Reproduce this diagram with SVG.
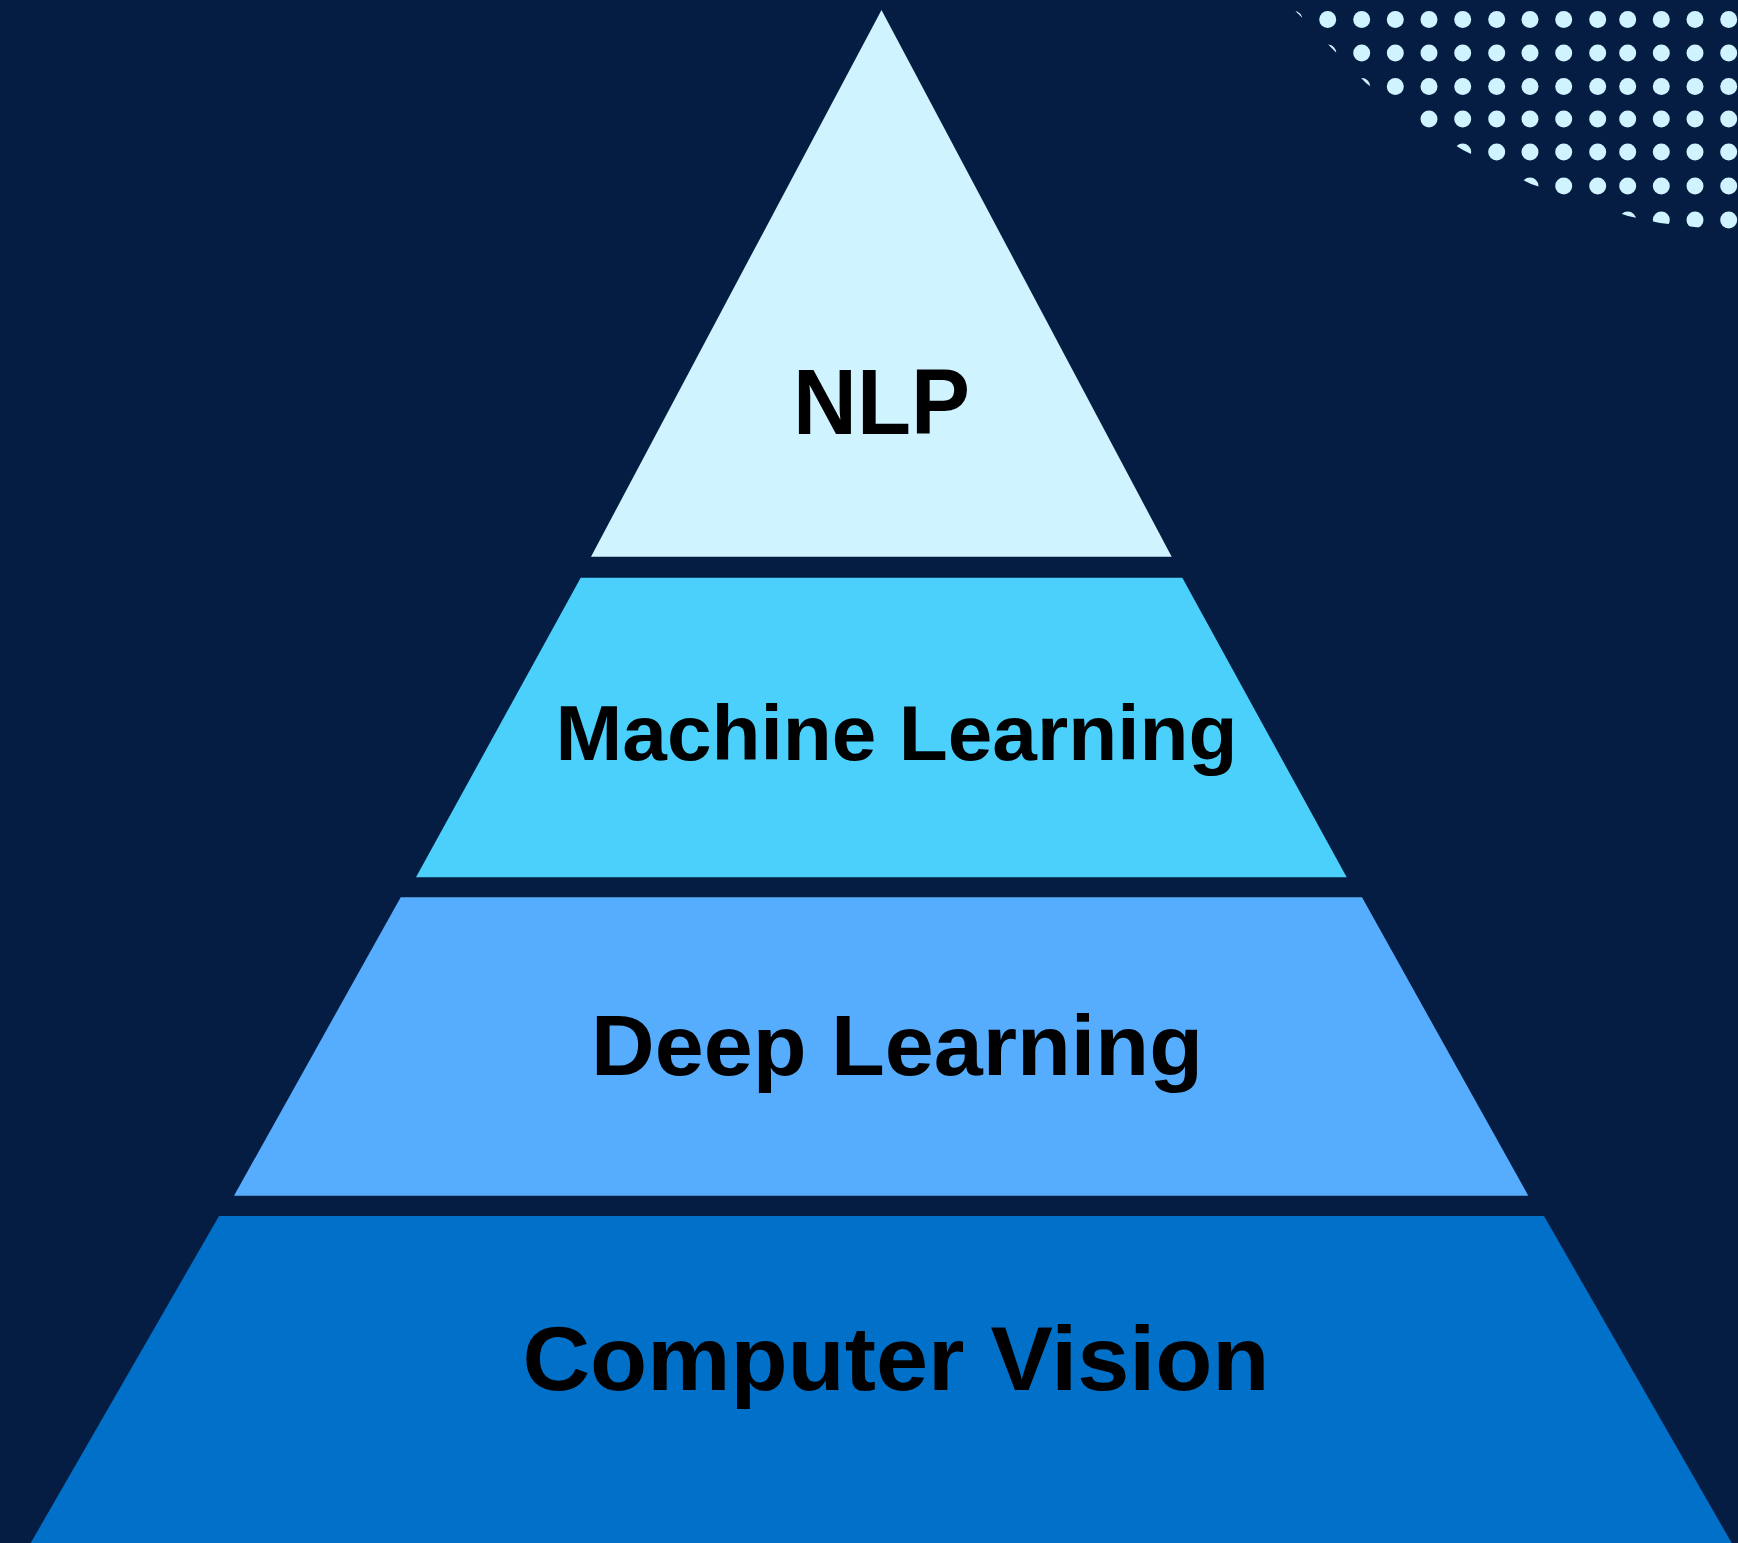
<svg xmlns="http://www.w3.org/2000/svg" width="1738" height="1543" viewBox="0 0 1738 1543">
  <style>
    .lbl { font-family: "Liberation Sans", Arial, sans-serif; font-weight: 700; fill: #000000; }
    .dot { fill: #CFF3FF; }
  </style>
  <defs>
    <clipPath id="dotClip">
      <polygon points="1274,-10 1304.5,20 1336.5,53 1366,83 1412,119 1463,150 1531,184 1628,216 1660,223 1738,232 1738,-10"/>
    </clipPath>
  </defs>
  <rect x="0" y="0" width="1738" height="1543" fill="#051D42"/>

  <g id="dots" clip-path="url(#dotClip)">
    <g id="dot-row-1">
      <circle class="dot" cx="1294" cy="19.5" r="8.5"/><circle class="dot" cx="1327.7" cy="19.5" r="8.5"/><circle class="dot" cx="1361.7" cy="19.5" r="8.5"/><circle class="dot" cx="1395.3" cy="19.5" r="8.5"/><circle class="dot" cx="1429" cy="19.5" r="8.5"/><circle class="dot" cx="1462.7" cy="19.5" r="8.5"/><circle class="dot" cx="1496.7" cy="19.5" r="8.5"/><circle class="dot" cx="1530" cy="19.5" r="8.5"/><circle class="dot" cx="1563.7" cy="19.5" r="8.5"/><circle class="dot" cx="1597.7" cy="19.5" r="8.5"/><circle class="dot" cx="1627.7" cy="19.5" r="8.5"/><circle class="dot" cx="1661.3" cy="19.5" r="8.5"/><circle class="dot" cx="1695" cy="19.5" r="8.5"/><circle class="dot" cx="1728.7" cy="19.5" r="8.5"/>
    </g>
    <g id="dot-row-2">
      <circle class="dot" cx="1294" cy="53" r="8.5"/><circle class="dot" cx="1327.7" cy="53" r="8.5"/><circle class="dot" cx="1361.7" cy="53" r="8.5"/><circle class="dot" cx="1395.3" cy="53" r="8.5"/><circle class="dot" cx="1429" cy="53" r="8.5"/><circle class="dot" cx="1462.7" cy="53" r="8.5"/><circle class="dot" cx="1496.7" cy="53" r="8.5"/><circle class="dot" cx="1530" cy="53" r="8.5"/><circle class="dot" cx="1563.7" cy="53" r="8.5"/><circle class="dot" cx="1597.7" cy="53" r="8.5"/><circle class="dot" cx="1627.7" cy="53" r="8.5"/><circle class="dot" cx="1661.3" cy="53" r="8.5"/><circle class="dot" cx="1695" cy="53" r="8.5"/><circle class="dot" cx="1728.7" cy="53" r="8.5"/>
    </g>
    <g id="dot-row-3">
      <circle class="dot" cx="1294" cy="86.5" r="8.5"/><circle class="dot" cx="1327.7" cy="86.5" r="8.5"/><circle class="dot" cx="1361.7" cy="86.5" r="8.5"/><circle class="dot" cx="1395.3" cy="86.5" r="8.5"/><circle class="dot" cx="1429" cy="86.5" r="8.5"/><circle class="dot" cx="1462.7" cy="86.5" r="8.5"/><circle class="dot" cx="1496.7" cy="86.5" r="8.5"/><circle class="dot" cx="1530" cy="86.5" r="8.5"/><circle class="dot" cx="1563.7" cy="86.5" r="8.5"/><circle class="dot" cx="1597.7" cy="86.5" r="8.5"/><circle class="dot" cx="1627.7" cy="86.5" r="8.5"/><circle class="dot" cx="1661.3" cy="86.5" r="8.5"/><circle class="dot" cx="1695" cy="86.5" r="8.5"/><circle class="dot" cx="1728.7" cy="86.5" r="8.5"/>
    </g>
    <g id="dot-row-4">
      <circle class="dot" cx="1294" cy="119" r="8.5"/><circle class="dot" cx="1327.7" cy="119" r="8.5"/><circle class="dot" cx="1361.7" cy="119" r="8.5"/><circle class="dot" cx="1395.3" cy="119" r="8.5"/><circle class="dot" cx="1429" cy="119" r="8.5"/><circle class="dot" cx="1462.7" cy="119" r="8.5"/><circle class="dot" cx="1496.7" cy="119" r="8.5"/><circle class="dot" cx="1530" cy="119" r="8.5"/><circle class="dot" cx="1563.7" cy="119" r="8.5"/><circle class="dot" cx="1597.7" cy="119" r="8.5"/><circle class="dot" cx="1627.7" cy="119" r="8.5"/><circle class="dot" cx="1661.3" cy="119" r="8.5"/><circle class="dot" cx="1695" cy="119" r="8.5"/><circle class="dot" cx="1728.7" cy="119" r="8.5"/>
    </g>
    <g id="dot-row-5">
      <circle class="dot" cx="1294" cy="152" r="8.5"/><circle class="dot" cx="1327.7" cy="152" r="8.5"/><circle class="dot" cx="1361.7" cy="152" r="8.5"/><circle class="dot" cx="1395.3" cy="152" r="8.5"/><circle class="dot" cx="1429" cy="152" r="8.5"/><circle class="dot" cx="1462.7" cy="152" r="8.5"/><circle class="dot" cx="1496.7" cy="152" r="8.5"/><circle class="dot" cx="1530" cy="152" r="8.5"/><circle class="dot" cx="1563.7" cy="152" r="8.5"/><circle class="dot" cx="1597.7" cy="152" r="8.5"/><circle class="dot" cx="1627.7" cy="152" r="8.5"/><circle class="dot" cx="1661.3" cy="152" r="8.5"/><circle class="dot" cx="1695" cy="152" r="8.5"/><circle class="dot" cx="1728.7" cy="152" r="8.5"/>
    </g>
    <g id="dot-row-6">
      <circle class="dot" cx="1294" cy="186" r="8.5"/><circle class="dot" cx="1327.7" cy="186" r="8.5"/><circle class="dot" cx="1361.7" cy="186" r="8.5"/><circle class="dot" cx="1395.3" cy="186" r="8.5"/><circle class="dot" cx="1429" cy="186" r="8.5"/><circle class="dot" cx="1462.7" cy="186" r="8.5"/><circle class="dot" cx="1496.7" cy="186" r="8.5"/><circle class="dot" cx="1530" cy="186" r="8.5"/><circle class="dot" cx="1563.7" cy="186" r="8.5"/><circle class="dot" cx="1597.7" cy="186" r="8.5"/><circle class="dot" cx="1627.7" cy="186" r="8.5"/><circle class="dot" cx="1661.3" cy="186" r="8.5"/><circle class="dot" cx="1695" cy="186" r="8.5"/><circle class="dot" cx="1728.7" cy="186" r="8.5"/>
    </g>
    <g id="dot-row-7">
      <circle class="dot" cx="1294" cy="220" r="8.5"/><circle class="dot" cx="1327.7" cy="220" r="8.5"/><circle class="dot" cx="1361.7" cy="220" r="8.5"/><circle class="dot" cx="1395.3" cy="220" r="8.5"/><circle class="dot" cx="1429" cy="220" r="8.5"/><circle class="dot" cx="1462.7" cy="220" r="8.5"/><circle class="dot" cx="1496.7" cy="220" r="8.5"/><circle class="dot" cx="1530" cy="220" r="8.5"/><circle class="dot" cx="1563.7" cy="220" r="8.5"/><circle class="dot" cx="1597.7" cy="220" r="8.5"/><circle class="dot" cx="1627.7" cy="220" r="8.5"/><circle class="dot" cx="1661.3" cy="220" r="8.5"/><circle class="dot" cx="1695" cy="220" r="8.5"/><circle class="dot" cx="1728.7" cy="220" r="8.5"/>
    </g>
  </g>

  <g id="connectors"></g>

  <g id="tier-nlp">
    <polygon points="881.5,10 1171.7,556.7 591,556.7" fill="#CFF3FF"/>
    <text class="lbl" x="793" y="434" font-size="93" textLength="177" lengthAdjust="spacingAndGlyphs">NLP</text>
  </g>

  <g id="tier-machine-learning">
    <polygon points="580.7,577.7 1182.3,577.7 1346.7,877.3 416,877.3" fill="#4BCFFB"/>
    <text class="lbl" x="555.5" y="760" font-size="78" textLength="682" lengthAdjust="spacingAndGlyphs">Machine Learning</text>
  </g>

  <g id="tier-deep-learning">
    <polygon points="400.7,897.3 1362,897.3 1528.3,1195.7 234,1195.7" fill="#56ADFD"/>
    <text class="lbl" x="591" y="1075" font-size="86" textLength="612" lengthAdjust="spacingAndGlyphs">Deep Learning</text>
  </g>

  <g id="tier-computer-vision">
    <polygon points="219,1216 1544,1216 1731.7,1543 30.7,1543" fill="#0070C8"/>
    <text class="lbl" x="522.5" y="1390" font-size="90" textLength="747" lengthAdjust="spacingAndGlyphs">Computer Vision</text>
  </g>
</svg>
